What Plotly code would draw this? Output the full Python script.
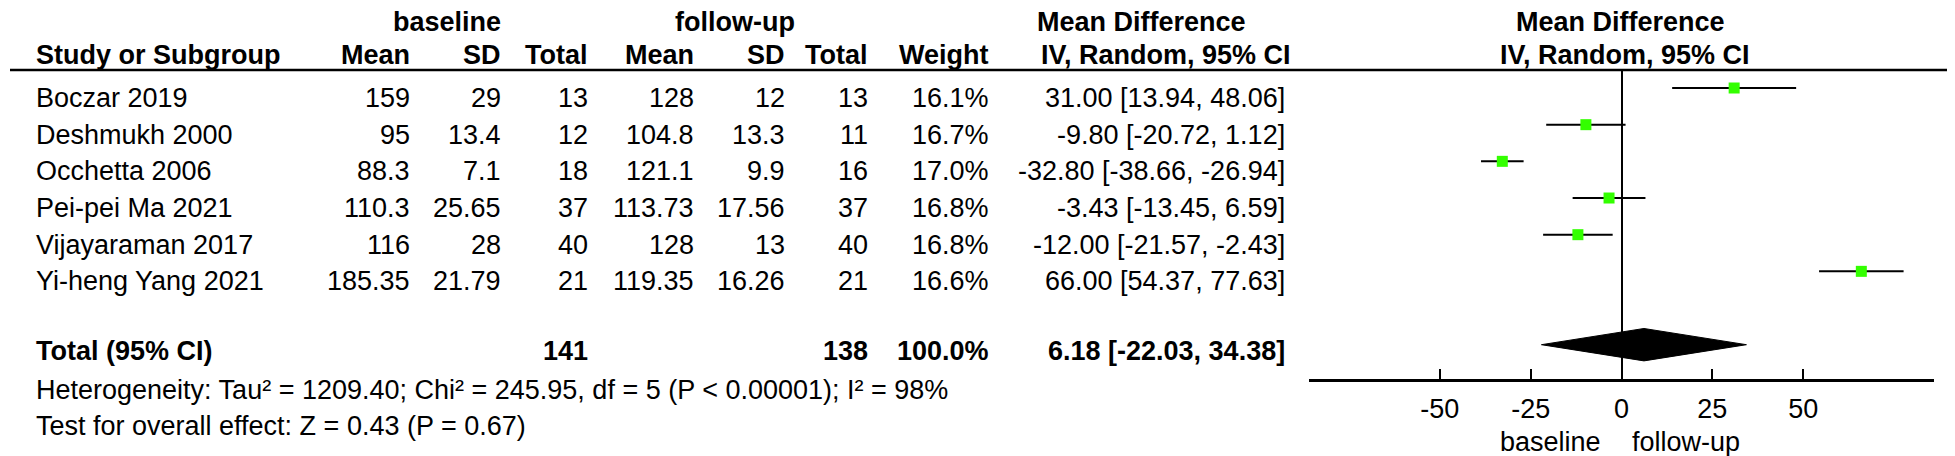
import plotly.graph_objects as go

# ---------------- data ----------------
studies = ["Boczar 2019", "Deshmukh 2000", "Occhetta 2006", "Pei-pei Ma 2021",
           "Vijayaraman 2017", "Yi-heng Yang 2021"]
base_mean = [159, 95, 88.3, 110.3, 116, 185.35]
base_sd = [29, 13.4, 7.1, 25.65, 28, 21.79]
base_n = [13, 12, 18, 37, 40, 21]
fu_mean = [128, 104.8, 121.1, 113.73, 128, 119.35]
fu_sd = [12, 13.3, 9.9, 17.56, 13, 16.26]
fu_n = [13, 11, 16, 37, 40, 21]
weight = [16.1, 16.7, 17.0, 16.8, 16.8, 16.6]
md = [31.00, -9.80, -32.80, -3.43, -12.00, 66.00]
ci_lo = [13.94, -20.72, -38.66, -13.45, -21.57, 54.37]
ci_hi = [48.06, 1.12, -26.94, 6.59, -2.43, 77.63]

total_label = "Total (95% CI)"
total_base_n = 141
total_fu_n = 138
total_weight = 100.0
total_md = 6.18
total_lo = -22.03
total_hi = 34.38

heterogeneity = "Heterogeneity: Tau² = 1209.40; Chi² = 245.95, df = 5 (P < 0.00001); I² = 98%"
overall_test = "Test for overall effect: Z = 0.43 (P = 0.67)"

tick_vals = [-50, -25, 0, 25, 50]
tick_text = ["-50", "-25", "0", "25", "50"]
x_range = [-86, 86]
favours_left = "baseline"
favours_right = "follow-up"

# ---------------- layout constants ----------------
W, H = 1955, 456
FONT = "Liberation Sans, Arial, sans-serif"
FS = 27
BLACK = "#000000"
GREEN = "#33ff00"

ROW0_PX = 80.0        # pixel y of first study row (marker line)
ROW_STEP = 36.67      # pixel step between rows
AXIS_PX = 371.0       # pixel y of x axis line
HLINE_PX = 62.0       # pixel y of header rule
TOTAL_ROW = 7         # row index of pooled estimate

def px_x(p):
    return p / W

def px_y(p):
    return 1 - p / H

y_top = (HLINE_PX - ROW0_PX) / ROW_STEP
y_bot = (AXIS_PX - ROW0_PX) / ROW_STEP

# column positions (px)
COL_STUDY_L = 27
COL_MEAN1 = 403
COL_SD1 = 494
COL_N1 = 581
COL_MEAN2 = 687
COL_SD2 = 778
COL_N2 = 861
COL_W = 982
COL_CI = 1278

def g(v):
    return f"{v:g}"

fig = go.Figure()

# study estimates with CIs
fig.add_trace(go.Scatter(
    x=md, y=list(range(len(studies))), mode="markers",
    marker=dict(symbol="square", size=11, color=GREEN, line=dict(width=0)),
    error_x=dict(type="data", symmetric=False,
                 array=[h - m for h, m in zip(ci_hi, md)],
                 arrayminus=[m - l for m, l in zip(md, ci_lo)],
                 color=BLACK, thickness=2, width=0),
    hoverinfo="skip", showlegend=False, cliponaxis=False,
))

# pooled diamond
dh = 16.2 / ROW_STEP
fig.add_trace(go.Scatter(
    x=[total_lo, total_md, total_hi, total_md, total_lo],
    y=[TOTAL_ROW, TOTAL_ROW - dh, TOTAL_ROW, TOTAL_ROW + dh, TOTAL_ROW],
    mode="lines", fill="toself", fillcolor=BLACK,
    line=dict(color=BLACK, width=1),
    hoverinfo="skip", showlegend=False,
))

ann = []

def add_text(text, xpx, y, yref="paper", anchor="right", bold=False, yshift=0):
    if bold:
        text = f"<b>{text}</b>"
    ann.append(dict(text=text, x=px_x(xpx), xref="paper", y=y, yref=yref,
                    xanchor=anchor, yanchor="middle", showarrow=False,
                    yshift=yshift, borderpad=0,
                    font=dict(family=FONT, size=FS, color=BLACK)))

# headers
r1 = px_y(14)
r2 = px_y(46.5)
add_text("baseline", 439, r1, anchor="center", bold=True)
add_text("follow-up", 727, r1, anchor="center", bold=True)
add_text("Mean Difference", 1133, r1, anchor="center", bold=True)
add_text("Mean Difference", 1612, r1, anchor="center", bold=True)
add_text("Study or Subgroup", COL_STUDY_L, r2, anchor="left", bold=True)
add_text("Mean", COL_MEAN1, r2, bold=True)
add_text("SD", COL_SD1, r2, bold=True)
add_text("Total", COL_N1, r2, bold=True)
add_text("Mean", COL_MEAN2, r2, bold=True)
add_text("SD", COL_SD2, r2, bold=True)
add_text("Total", COL_N2, r2, bold=True)
add_text("Weight", COL_W, r2, bold=True)
add_text("IV, Random, 95% CI", 1158, r2, anchor="center", bold=True)
add_text("IV, Random, 95% CI", 1617, r2, anchor="center", bold=True)

# study rows
for i, s in enumerate(studies):
    add_text(s, COL_STUDY_L, i, yref="y", anchor="left", yshift=-10)
    add_text(g(base_mean[i]), COL_MEAN1, i, yref="y", yshift=-10)
    add_text(g(base_sd[i]), COL_SD1, i, yref="y", yshift=-10)
    add_text(g(base_n[i]), COL_N1, i, yref="y", yshift=-10)
    add_text(g(fu_mean[i]), COL_MEAN2, i, yref="y", yshift=-10)
    add_text(g(fu_sd[i]), COL_SD2, i, yref="y", yshift=-10)
    add_text(g(fu_n[i]), COL_N2, i, yref="y", yshift=-10)
    add_text(f"{weight[i]:.1f}%", COL_W, i, yref="y", yshift=-10)
    add_text(f"{md[i]:.2f} [{ci_lo[i]:.2f}, {ci_hi[i]:.2f}]", COL_CI, i, yref="y", yshift=-10)

# total row
add_text(total_label, COL_STUDY_L, TOTAL_ROW, yref="y", anchor="left", bold=True, yshift=-6)
add_text(str(total_base_n), COL_N1, TOTAL_ROW, yref="y", bold=True, yshift=-6)
add_text(str(total_fu_n), COL_N2, TOTAL_ROW, yref="y", bold=True, yshift=-6)
add_text(f"{total_weight:.1f}%", COL_W, TOTAL_ROW, yref="y", bold=True, yshift=-6)
add_text(f"{total_md:.2f} [{total_lo:.2f}, {total_hi:.2f}]", COL_CI, TOTAL_ROW,
         yref="y", bold=True, yshift=-6)

# footers
add_text(heterogeneity, COL_STUDY_L, px_y(382), anchor="left")
add_text(overall_test, COL_STUDY_L, px_y(418), anchor="left")

# favours labels
add_text(favours_left, 1594, px_y(434), anchor="right")
add_text(favours_right, 1623, px_y(434), anchor="left")

shapes = [dict(type="line", xref="paper", yref="paper",
               x0=px_x(2), x1=px_x(1950), y0=px_y(HLINE_PX), y1=px_y(HLINE_PX),
               line=dict(color=BLACK, width=2.5))]

fig.update_layout(
    width=W, height=H,
    margin=dict(l=0, r=0, t=0, b=0),
    paper_bgcolor="white", plot_bgcolor="white",
    font=dict(family=FONT, size=FS, color=BLACK),
    annotations=ann, shapes=shapes,
    xaxis=dict(domain=[px_x(1301), px_x(1926)], range=x_range,
               showline=True, linecolor=BLACK, linewidth=2.5,
               ticks="inside", ticklen=10, tickwidth=2, tickcolor=BLACK,
               tickvals=tick_vals, ticktext=tick_text, ticklabelstandoff=4,
               tickfont=dict(family=FONT, size=FS, color=BLACK),
               showgrid=False, zeroline=True, zerolinecolor=BLACK, zerolinewidth=2,
               automargin=False, fixedrange=True),
    yaxis=dict(domain=[px_y(AXIS_PX), px_y(HLINE_PX)], range=[y_bot, y_top],
               visible=False, showgrid=False, zeroline=False,
               automargin=False, fixedrange=True),
    showlegend=False,
)

fig.write_html("out.html")
